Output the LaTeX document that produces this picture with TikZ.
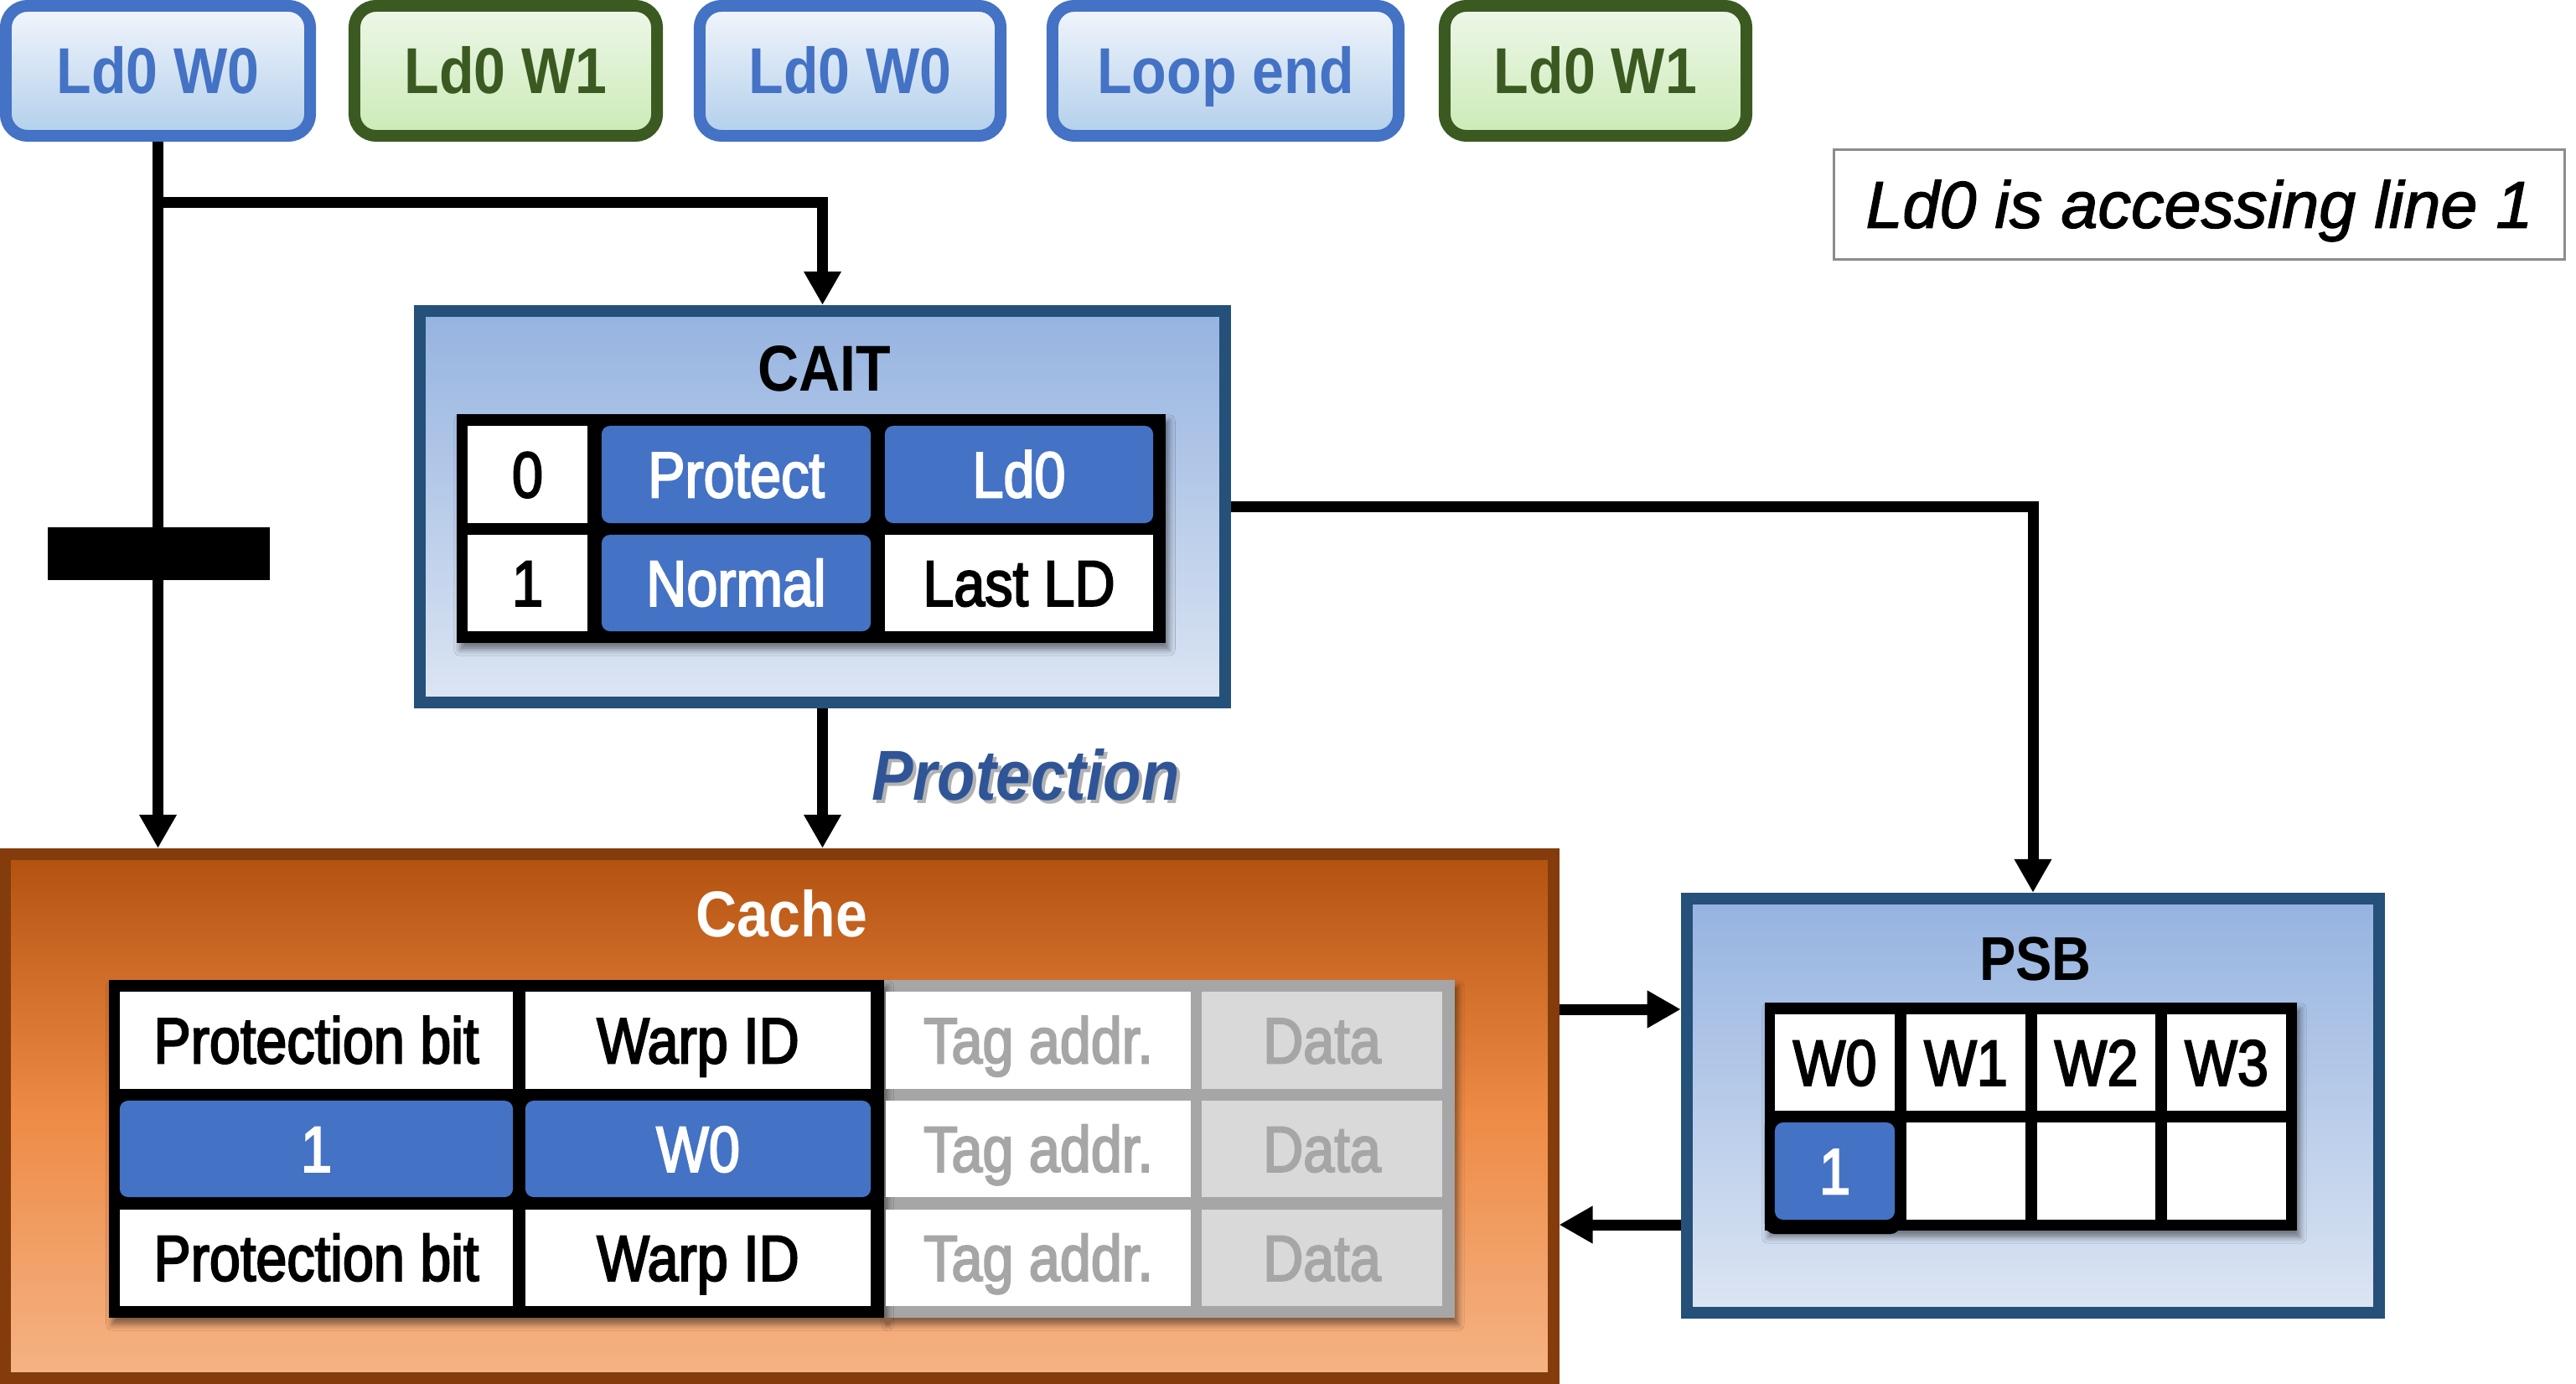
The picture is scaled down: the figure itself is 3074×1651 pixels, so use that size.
\documentclass[tikz,border=0pt]{standalone}
\usepackage{fontspec}
\setmainfont{Liberation Sans}
\newfontfamily\nf{Liberation Sans}[FakeStretch=0.88]
\newfontfamily\cf{Liberation Sans}[FakeStretch=0.86, FakeBold=2.6]
\newfontfamily\itf{Liberation Sans}[FakeBold=1.6]
\usetikzlibrary{arrows.meta,shadows.blur}
\definecolor{boxblue}{HTML}{4472C4}
\definecolor{boxbluetop}{HTML}{F2F6FC}
\definecolor{boxbluebot}{HTML}{B2CFEB}
\definecolor{boxgreen}{HTML}{3A5A21}
\definecolor{boxgreentop}{HTML}{EEF7E9}
\definecolor{boxgreenbot}{HTML}{CBEBB6}
\definecolor{navy}{HTML}{24507A}
\definecolor{paneltop}{HTML}{95B3E0}
\definecolor{panelbot}{HTML}{DCE5F3}
\definecolor{cellblue}{HTML}{4472C4}
\definecolor{protblue}{HTML}{2F5597}
\definecolor{cacheborder}{HTML}{843C0C}
\definecolor{cachetop}{HTML}{B3520F}
\definecolor{cachemid}{HTML}{EE8B46}
\definecolor{cachebot}{HTML}{F5B385}
\definecolor{graygrid}{HTML}{A6A6A6}
\definecolor{datagray}{HTML}{D9D9D9}
\definecolor{notegray}{HTML}{8C8C8C}
\tikzset{
  topbox/.style={draw, line width=0.14cm, rounded corners=0.26cm, minimum height=1.55cm,
    inner sep=0pt, text height=15.5pt, text depth=0pt, font=\nf\bfseries\fontsize{22}{24}\selectfont},
  bluebox/.style={topbox, draw=boxblue, top color=boxbluetop, bottom color=boxbluebot, text=boxblue},
  greenbox/.style={topbox, draw=boxgreen, top color=boxgreentop, bottom color=boxgreenbot, text=boxgreen},
  panel/.style={draw=navy, line width=0.14cm, top color=paneltop, bottom color=panelbot, inner sep=0pt},
  title/.style={inner sep=0pt, text height=15.5pt, text depth=0pt, font=\nf\bfseries\fontsize{22}{24}\selectfont},
  tback/.style={inner sep=0pt, blur shadow={shadow xshift=0.04cm, shadow yshift=-0.08cm, shadow blur radius=0.07cm, shadow opacity=45}},
  cellw/.style={fill=white, inner sep=0pt, text height=15.5pt, text depth=0pt, font=\cf\fontsize{22}{24}\selectfont},
  cellb/.style={cellw, fill=cellblue, text=white, rounded corners=0.1cm},
  cellg/.style={cellw, text=graygrid},
  celld/.style={cellw, fill=datagray, text=graygrid},
  arr/.style={line width=0.13cm, -{Triangle[width=0.42cm,length=0.40cm]}}
}
\begin{document}
\begin{tikzpicture}[x=0.01cm,y=-0.01cm]
\useasboundingbox (0,0) rectangle (3074,1651);

% top instruction boxes
\node[bluebox, minimum width=3.63cm] (b1) at (188.5,84.5) {Ld0 W0};
\node[greenbox, minimum width=3.61cm] (b2) at (603.5,84.5) {Ld0 W1};
\node[bluebox, minimum width=3.59cm] (b3) at (1014.5,84.5) {Ld0 W0};
\node[bluebox, minimum width=4.13cm] (b4) at (1462.5,84.5) {Loop end};
\node[greenbox, minimum width=3.60cm] (b5) at (1904,84.5) {Ld0 W1};

% note
\node[draw=notegray, line width=0.03cm, fill=white, minimum width=8.72cm, minimum height=1.31cm,
  inner sep=0pt, text height=15.8pt, text depth=0pt, font=\itf\itshape\fontsize{22.5}{24}\selectfont] (note) at (2624.5,244) {Ld0 is accessing line 1};

% panels
\node[panel, minimum width=9.61cm, minimum height=4.67cm] (cait) at (981.5,604.5) {};
\node[panel, minimum width=8.26cm, minimum height=4.94cm] (psb) at (2426,1319) {};
\node[draw=cacheborder, line width=0.14cm, top color=cachetop, bottom color=cachebot, middle color=cachemid,
  inner sep=0pt, minimum width=18.46cm, minimum height=6.25cm] (cache) at (930,1331.5) {};

% titles
\node[title] (caitt) at (984,439) {CAIT};
\node[title, text=white] (cachet) at (933,1090) {Cache};
\node[title, font=\nf\bfseries\fontsize{21}{24}\selectfont] (psbt) at (2429,1142) {PSB};

% CAIT table
\node[tback, fill=black, minimum width=8.46cm, minimum height=2.73cm] (caittab) at (968,630.5) {};
\node[cellw, minimum width=1.43cm, minimum height=1.16cm] (c00) at (629.5,566) {0};
\node[cellb, minimum width=3.21cm, minimum height=1.16cm] (c01) at (878.5,566) {Protect};
\node[cellb, minimum width=3.20cm, minimum height=1.16cm] (c02) at (1216,566) {Ld0};
\node[cellw, minimum width=1.43cm, minimum height=1.15cm] (c10) at (629.5,695.5) {1};
\node[cellb, minimum width=3.21cm, minimum height=1.15cm] (c11) at (878.5,695.5) {Normal};
\node[cellw, minimum width=3.20cm, minimum height=1.15cm] (c12) at (1216,695.5) {Last LD};

% Cache table
\node[tback, fill=graygrid, minimum width=6.81cm, minimum height=4.03cm] (cgray) at (1395.5,1370.5) {};
\node[tback, fill=black, minimum width=9.25cm, minimum height=4.03cm] (cblack) at (592.5,1370.5) {};
\node[cellw, minimum width=4.69cm, minimum height=1.16cm] (k00) at (377.5,1241) {Protection bit};
\node[cellw, minimum width=4.12cm, minimum height=1.16cm] (k01) at (833,1241) {Warp ID};
\node[cellg, minimum width=3.64cm, minimum height=1.16cm] (k02) at (1239,1241) {Tag addr.};
\node[celld, minimum width=2.87cm, minimum height=1.16cm] (k03) at (1577.5,1241) {Data};
\node[cellb, minimum width=4.69cm, minimum height=1.15cm] (k10) at (377.5,1370.5) {1};
\node[cellb, minimum width=4.12cm, minimum height=1.15cm] (k11) at (833,1370.5) {W0};
\node[cellg, minimum width=3.64cm, minimum height=1.15cm] (k12) at (1239,1370.5) {Tag addr.};
\node[celld, minimum width=2.87cm, minimum height=1.15cm] (k13) at (1577.5,1370.5) {Data};
\node[cellw, minimum width=4.69cm, minimum height=1.15cm] (k20) at (377.5,1500.5) {Protection bit};
\node[cellw, minimum width=4.12cm, minimum height=1.15cm] (k21) at (833,1500.5) {Warp ID};
\node[cellg, minimum width=3.64cm, minimum height=1.15cm] (k22) at (1239,1500.5) {Tag addr.};
\node[celld, minimum width=2.87cm, minimum height=1.15cm] (k23) at (1577.5,1500.5) {Data};

% PSB table
\node[tback, fill=black, minimum width=6.35cm, minimum height=2.72cm] (psbtab) at (2423.5,1332) {};
\node[fill=black, rounded corners=0.12cm, inner sep=0pt, minimum width=1.62cm, minimum height=1.42cm] (psbhl) at (2187,1401) {};
\node[cellw, minimum width=1.43cm, minimum height=1.15cm] (p00) at (2189.5,1267.5) {W0};
\node[cellw, minimum width=1.42cm, minimum height=1.15cm] (p01) at (2346,1267.5) {W1};
\node[cellw, minimum width=1.41cm, minimum height=1.15cm] (p02) at (2501.5,1267.5) {W2};
\node[cellw, minimum width=1.42cm, minimum height=1.15cm] (p03) at (2657,1267.5) {W3};
\node[cellb, minimum width=1.43cm, minimum height=1.16cm] (p10) at (2189.5,1397) {1};
\node[cellw, minimum width=1.42cm, minimum height=1.16cm] (p11) at (2346,1397) {};
\node[cellw, minimum width=1.41cm, minimum height=1.16cm] (p12) at (2501.5,1397) {};
\node[cellw, minimum width=1.42cm, minimum height=1.16cm] (p13) at (2657,1397) {};

% Protection label
\node[inner sep=0pt, text height=17pt, text depth=0pt, text=black, opacity=0.3,
  font=\nf\bfseries\itshape\fontsize{24}{26}\selectfont] (protsh) at (1228,929) {Protection};
\node[inner sep=0pt, text height=17pt, text depth=0pt, text=protblue,
  font=\nf\bfseries\itshape\fontsize{24}{26}\selectfont] (prot) at (1224,925) {Protection};

% connectors
\coordinate (br) at (188.5,241);
\coordinate (c2p) at (0,1204);
\coordinate (p2c) at (0,1461);
\draw[arr] (b1.south) -- (b1.south |- cache.north);
\draw[arr] (br) -| (cait.north);
\draw[arr] (cait.south) -- (cait.south |- cache.north);
\draw[arr] (cait.east) -| (psb.north);
\draw[arr] (cache.east |- c2p) -- (psb.west |- c2p);
\draw[arr] (psb.west |- p2c) -- (cache.east |- p2c);
\node[fill=black, inner sep=0pt, minimum width=2.65cm, minimum height=0.63cm] (bar) at (189.5,660.5) {};
\end{tikzpicture}
\end{document}
